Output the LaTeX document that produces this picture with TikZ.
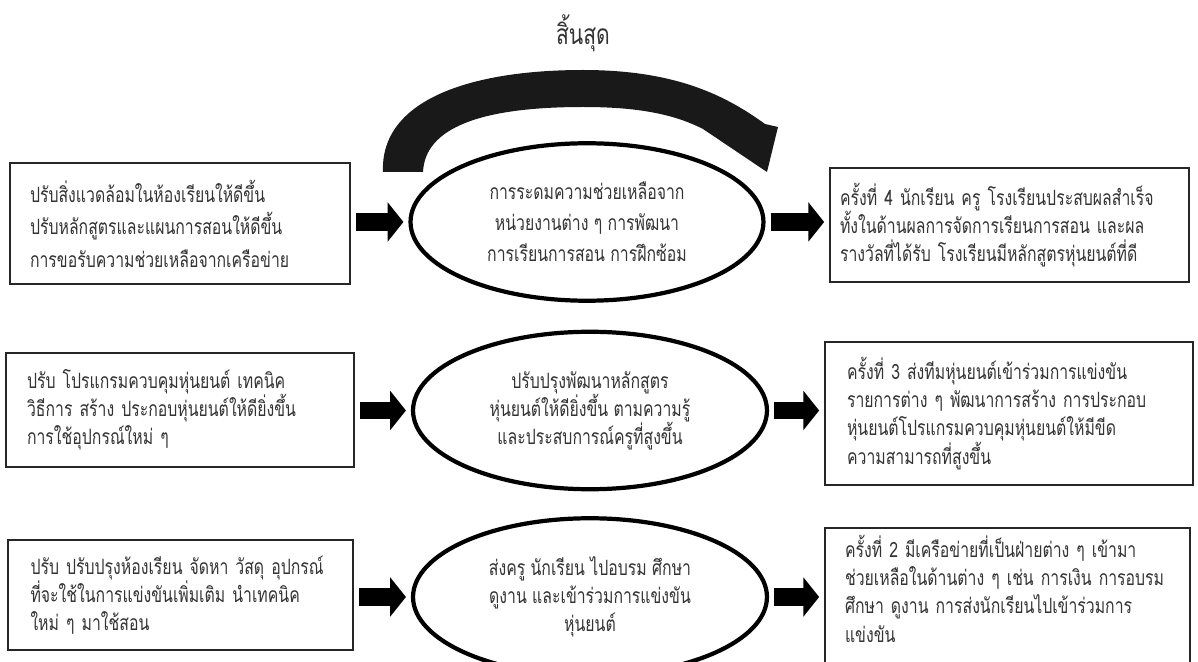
\documentclass[tikz,border=0pt]{standalone}
\usepackage{fontspec}
\newfontfamily\thaifont[Script=Thai,FakeStretch=0.75]{Loma}
\usetikzlibrary{arrows.meta,shapes.geometric}

\tikzset{
  caja/.style={rectangle, draw=black!85, line width=1pt, align=left,
    text=black!80, font=\thaifont\fontsize{12}{16}\selectfont},
  ovalo/.style={ellipse, draw=black, line width=2.4pt, align=center, inner sep=0pt,
    minimum width=7.06cm, minimum height=3.15cm,
    text=black!80, font=\thaifont\fontsize{12}{16}\selectfont},
  flecha/.style={line width=10pt, black, shorten <=0.1cm, shorten >=0.1cm,
    -{Triangle[width=22pt,length=9pt]}}
}

\begin{document}
\begin{tikzpicture}[x=0.02cm,y=-0.02cm]

  % Marco de la imagen
  \clip (0,0) rectangle (1198,662);

  % Titulo
  \node[text=black!80, font=\thaifont\fontsize{16}{18}\selectfont] (fin) at (583,33) {สิ้นสุด};

  % Flecha curva superior
  \fill[black!90] (383,172) .. controls (380,100) and (470,70) .. (583,70)
    .. controls (675,70) and (725,95) .. (765,124) -- (778,127) -- (767,172) -- (703,129)
    .. controls (670,112) and (630,107) .. (583,107)
    .. controls (480,107) and (425,128) .. (423,172) -- cycle;

  % Fila 1
  \node[caja, minimum width=6.8cm, minimum height=2.42cm, text width=6cm, inner xsep=0.4cm,
    font=\thaifont\fontsize{12}{18.5}\selectfont] (izq1) at (180,223.5)
    {ปรับสิ่งแวดล้อมในห้องเรียนให้ดีขึ้น\\ปรับหลักสูตรและแผนการสอนให้ดีขึ้น\\การขอรับความช่วยเหลือจากเครือข่าย};
  \node[ovalo, font=\thaifont\fontsize{12}{17.6}\selectfont] (ovalo1) at (587,222)
    {การระดมความช่วยเหลือจาก\\หน่วยงานต่าง ๆ การพัฒนา\\การเรียนการสอน การฝึกซ้อม};
  \node[caja, minimum height=2.28cm, text width=6.78cm, inner xsep=0.2cm] (der1) at (1009.5,225)
    {ครั้งที่ 4 นักเรียน ครู โรงเรียนประสบผลสำเร็จ\\ทั้งในด้านผลการจัดการเรียนการสอน และผล\\รางวัลที่ได้รับ โรงเรียนมีหลักสูตรหุ่นยนต์ที่ดี};

  % Fila 2
  \node[caja, minimum height=2.28cm, text width=6.12cm, inner xsep=0.42cm] (izq2) at (180,410)
    {ปรับ โปรแกรมควบคุมหุ่นยนต์ เทคนิค\\วิธีการ สร้าง ประกอบหุ่นยนต์ให้ดียิ่งขึ้น\\การใช้อุปกรณ์ใหม่ ๆ};
  \node[ovalo, minimum width=7.08cm] (ovalo2) at (590,410.5)
    {ปรับปรุงพัฒนาหลักสูตร\\หุ่นยนต์ให้ดียิ่งขึ้น ตามความรู้\\และประสบการณ์ครูที่สูงขึ้น};
  \node[caja, minimum height=2.86cm, text width=6.48cm, inner xsep=0.44cm] (der2) at (1009,413.5)
    {ครั้งที่ 3 ส่งทีมหุ่นยนต์เข้าร่วมการแข่งขัน\\รายการต่าง ๆ พัฒนาการสร้าง การประกอบ\\หุ่นยนต์โปรแกรมควบคุมหุ่นยนต์ให้มีขีด\\ความสามารถที่สูงขึ้น};

  % Fila 3
  \node[caja, minimum height=2.2cm, text width=6.0cm, inner xsep=0.45cm] (izq3) at (180.5,595)
    {ปรับ ปรับปรุงห้องเรียน จัดหา วัสดุ อุปกรณ์\\ที่จะใช้ในการแข่งขันเพิ่มเติม นำเทคนิค\\ใหม่ ๆ มาใช้สอน};
  \node[ovalo, minimum width=7.08cm] (ovalo3) at (590,597)
    {ส่งครู นักเรียน ไปอบรม ศึกษา\\ดูงาน และเข้าร่วมการแข่งขัน\\หุ่นยนต์};
  \node[caja, anchor=north, text width=6.5cm, inner xsep=0.4cm, inner ysep=0.15cm,
    text depth=3cm] (der3) at (1007.5,527)
    {ครั้งที่ 2 มีเครือข่ายที่เป็นฝ่ายต่าง ๆ เข้ามา\\ช่วยเหลือในด้านต่าง ๆ เช่น การเงิน การอบรม\\ศึกษา ดูงาน การส่งนักเรียนไปเข้าร่วมการ\\แข่งขัน};

  % Flechas entre cajas y ovalos
  \foreach \i in {1,2,3}{
    \draw[flecha] (izq\i.east |- ovalo\i.center) -- (ovalo\i.west);
    \draw[flecha] (ovalo\i.east) -- (der\i.west |- ovalo\i.center);
  }

\end{tikzpicture}
\end{document}
